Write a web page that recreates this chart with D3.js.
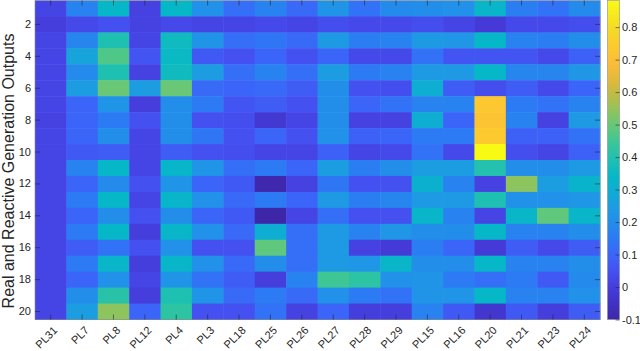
<!DOCTYPE html>
<html>
<head>
<meta charset="utf-8">
<script src="https://cdn.jsdelivr.net/npm/d3@7"></script>
<style>
  body { margin: 0; background: #fff; }
  svg { display: block; font-family: "Liberation Sans", Arial, sans-serif; }
  .tick text { fill: #262626; font-size: 11px; }
  .tick line { stroke: #262626; stroke-width: 0.6; }
</style>
</head>
<body>
<div id="chart"></div>
<script>
// columns and rows of the heatmap
const columns = ["PL31", "PL7", "PL8", "PL12", "PL4", "PL3", "PL18", "PL25", "PL26",
    "PL27", "PL28", "PL29", "PL15", "PL16", "PL20", "PL21", "PL23", "PL24"];
const rowIds = [1, 2, 3, 4, 5, 6, 7, 8, 9, 10, 11, 12, 13, 14, 15, 16, 17, 18, 19, 20];
const rowTicks = [2, 4, 6, 8, 10, 12, 14, 16, 18, 20];
const colorTicks = [-0.1, 0, 0.1, 0.2, 0.3, 0.4, 0.5, 0.6, 0.7, 0.8];
const colorLimits = [-0.1, 0.882];

// one array per column, rows 1..20
const pl31 = [0.02, 0.00, 0.02, 0.02, 0.02, 0.02, 0.02, 0.01, 0.02, 0.02, 0.02, 0.02, 0.02, 0.02, 0.02, 0.02, 0.02, 0.02, 0.02, 0.02];
const pl7  = [0.17, 0.03, 0.18, 0.27, 0.19, 0.25, 0.10, 0.10, 0.10, 0.07, 0.17, 0.10, 0.15, 0.10, 0.15, 0.08, 0.15, 0.10, 0.20, 0.25];
const pl8  = [0.34, 0.05, 0.39, 0.47, 0.39, 0.50, 0.22, 0.15, 0.20, 0.08, 0.34, 0.19, 0.34, 0.20, 0.34, 0.13, 0.33, 0.21, 0.41, 0.54];
const pl12 = [0.01, 0.01, 0.02, 0.06, 0.01, 0.25, 0.00, 0.05, 0.02, 0.02, 0.02, 0.05, 0.02, 0.05, 0.00, 0.05, 0.00, 0.02, 0.00, 0.10];
const pl4  = [0.34, 0.03, 0.36, 0.35, 0.36, 0.50, 0.20, 0.20, 0.20, 0.08, 0.33, 0.22, 0.33, 0.20, 0.33, 0.21, 0.33, 0.22, 0.39, 0.42];
const pl3  = [0.21, 0.02, 0.22, 0.07, 0.25, 0.11, 0.15, 0.05, 0.14, 0.05, 0.22, 0.10, 0.21, 0.10, 0.21, 0.05, 0.21, 0.13, 0.22, 0.05];
const pl18 = [0.12, 0.02, 0.12, 0.05, 0.12, 0.10, 0.06, 0.04, 0.05, 0.04, 0.12, 0.07, 0.11, 0.07, 0.11, 0.05, 0.11, 0.08, 0.11, 0.05];
const pl25 = [0.17, 0.03, 0.14, 0.10, 0.17, 0.11, 0.08, -0.02, 0.10, 0.02, 0.15, -0.09, 0.15, -0.10, 0.30, 0.49, 0.20, 0.00, 0.15, 0.13];
const pl26 = [0.11, 0.02, 0.11, 0.05, 0.12, 0.08, 0.05, 0.02, 0.05, 0.02, 0.10, 0.01, 0.10, 0.02, 0.12, 0.12, 0.12, 0.17, 0.11, 0.01];
const pl27 = [0.22, 0.04, 0.24, 0.10, 0.25, 0.20, 0.20, 0.20, 0.21, 0.09, 0.25, 0.14, 0.24, 0.12, 0.24, 0.24, 0.24, 0.45, 0.21, 0.10];
const pl28 = [0.13, 0.03, 0.16, 0.03, 0.15, 0.05, 0.10, 0.01, 0.09, 0.02, 0.16, 0.05, 0.16, 0.05, 0.17, 0.01, 0.23, 0.42, 0.15, 0.00];
const pl29 = [0.19, 0.03, 0.17, 0.03, 0.17, 0.04, 0.13, 0.01, 0.10, 0.03, 0.20, 0.05, 0.18, 0.05, 0.23, -0.01, 0.33, 0.21, 0.13, 0.00];
const pl15 = [0.20, 0.04, 0.24, 0.13, 0.24, 0.30, 0.17, 0.30, 0.15, 0.13, 0.25, 0.31, 0.24, 0.33, 0.20, 0.16, 0.20, 0.22, 0.22, 0.17];
const pl16 = [0.21, 0.02, 0.23, 0.06, 0.24, 0.08, 0.17, 0.10, 0.15, 0.03, 0.25, 0.17, 0.24, 0.17, 0.20, 0.10, 0.20, 0.15, 0.22, 0.07];
const pl20 = [0.33, -0.01, 0.34, 0.06, 0.34, 0.04, 0.73, 0.72, 0.74, 0.88, 0.40, 0.01, 0.39, 0.02, 0.34, -0.01, 0.34, 0.12, 0.34, -0.03];
const pl21 = [0.16, 0.03, 0.17, 0.06, 0.18, 0.08, 0.15, 0.17, 0.09, 0.04, 0.20, 0.54, 0.21, 0.33, 0.17, 0.08, 0.17, 0.15, 0.17, 0.07];
const pl23 = [0.13, 0.03, 0.16, 0.03, 0.18, 0.03, 0.13, 0.01, 0.09, 0.02, 0.20, 0.25, 0.21, 0.49, 0.17, 0.03, 0.17, 0.07, 0.17, 0.00];
const pl24 = [0.19, 0.04, 0.20, 0.09, 0.23, 0.10, 0.17, 0.24, 0.13, 0.09, 0.24, 0.32, 0.23, 0.33, 0.20, 0.08, 0.20, 0.19, 0.21, 0.08];

const columnValues = [pl31, pl7, pl8, pl12, pl4, pl3, pl18, pl25, pl26,
    pl27, pl28, pl29, pl15, pl16, pl20, pl21, pl23, pl24];

// flat table for the cells
const cells = [];
columns.forEach((c, i) => {
    rowIds.forEach((r, j) => cells.push({ col: c, row: r, value: columnValues[i][j] }));
});

// parula-like colormap
const parula = ["#3e26a8", "#4132c4", "#463cdc", "#4450f0", "#3c64f8", "#2d78f5", "#238ceb",
    "#1e9be4", "#0facd4", "#06b8c6", "#1ec0b2", "#37c69b", "#5fc87d", "#8cc45f",
    "#b9bc46", "#e1b93c", "#fabc37", "#fdc830", "#f6d726", "#f5e81e", "#f9fb14"];
const color = d3.scaleLinear()
    .domain(parula.map((_, i) => colorLimits[0] + i / (parula.length - 1) * (colorLimits[1] - colorLimits[0])))
    .range(parula)
    .clamp(true);

const W = 640, H = 351;
const plot = { left: 35, right: 600, top: 0.5, bottom: 319.5 };
const bar = { left: 607.5, right: 619.5 };

const svg = d3.select("#chart").append("svg")
    .attr("width", W)
    .attr("height", H);

const x = d3.scaleBand().domain(columns).range([plot.left, plot.right]);
const y = d3.scaleBand().domain(rowIds).range([plot.top, plot.bottom]);

// cells
svg.append("g").selectAll("rect")
    .data(cells)
    .join("rect")
    .attr("x", d => x(d.col))
    .attr("y", d => y(d.row))
    .attr("width", x.bandwidth() + 0.5)
    .attr("height", y.bandwidth() + 0.5)
    .attr("fill", d => color(d.value));

// axes box
svg.append("rect")
    .attr("x", plot.left).attr("y", plot.top)
    .attr("width", plot.right - plot.left).attr("height", plot.bottom - plot.top)
    .attr("fill", "none").attr("stroke", "#8c8c8c").attr("stroke-width", 0.6);

// x axis (ticks inside, rotated labels)
const xAxis = svg.append("g")
    .attr("transform", `translate(0,${plot.bottom})`)
    .call(d3.axisBottom(x).tickSizeInner(-5).tickSizeOuter(0));
xAxis.select(".domain").remove();
xAxis.selectAll("text")
    .attr("text-anchor", "end")
    .attr("y", 0).attr("dy", 0)
    .attr("transform", "translate(7.5,11.5) rotate(-45)");

// top ticks
svg.append("g")
    .attr("transform", `translate(0,${plot.top})`)
    .call(d3.axisTop(x).tickSizeInner(-5).tickSizeOuter(0).tickFormat(""))
    .select(".domain").remove();

// y axis
const yAxis = svg.append("g")
    .attr("transform", `translate(${plot.left},0)`)
    .call(d3.axisLeft(y).tickValues(rowTicks).tickSizeInner(-5).tickSizeOuter(0).tickPadding(4));
yAxis.select(".domain").remove();

svg.append("g")
    .attr("transform", `translate(${plot.right},0)`)
    .call(d3.axisRight(y).tickValues(rowTicks).tickSizeInner(-5).tickSizeOuter(0).tickFormat(""))
    .select(".domain").remove();

// y label
svg.append("text")
    .attr("transform", "translate(14,171) rotate(-90)")
    .attr("text-anchor", "middle")
    .attr("fill", "#262626")
    .style("font-size", "16px")
    .text("Real and Reactive Generation Outputs");

// colorbar
const cy = d3.scaleLinear().domain(colorLimits).range([plot.bottom, plot.top]);
const grad = svg.append("defs").append("linearGradient")
    .attr("id", "cbar")
    .attr("x1", 0).attr("y1", 1).attr("x2", 0).attr("y2", 0);
grad.selectAll("stop")
    .data(parula)
    .join("stop")
    .attr("offset", (d, i) => i / (parula.length - 1))
    .attr("stop-color", d => d);

svg.append("rect")
    .attr("x", bar.left).attr("y", plot.top)
    .attr("width", bar.right - bar.left).attr("height", plot.bottom - plot.top)
    .attr("fill", "url(#cbar)")
    .attr("stroke", "#8c8c8c").attr("stroke-width", 0.6);

const cAxis = svg.append("g")
    .attr("transform", `translate(${bar.right},0)`)
    .call(d3.axisRight(cy).tickValues(colorTicks).tickSizeInner(-4).tickSizeOuter(0).tickPadding(2.5)
        .tickFormat(d => String(Math.round(d * 10) / 10)));
cAxis.select(".domain").remove();
</script>
</body>
</html>
